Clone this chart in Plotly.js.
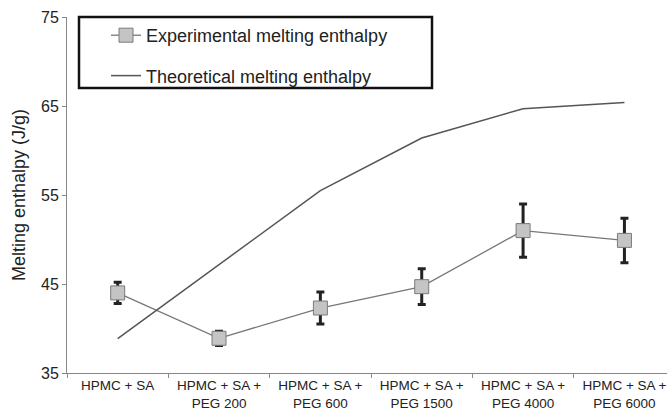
<!DOCTYPE html>
<html>
<head>
<meta charset="utf-8">
<script src="https://cdn.plot.ly/plotly-3.0.1.min.js"></script>
<style>html,body{margin:0;padding:0;background:#fff;}#chart{width:667px;height:412px;}</style>
</head>
<body>
<div id="chart"></div>
<script>
const categories = ["HPMC + SA", "HPMC + SA +<br>PEG 200", "HPMC + SA +<br>PEG 600", "HPMC + SA +<br>PEG 1500", "HPMC + SA +<br>PEG 4000", "HPMC + SA +<br>PEG 6000"];
const experimental = [44.0, 38.9, 42.3, 44.7, 51.0, 49.9];
const experimentalErr = [1.2, 0.8, 1.8, 2.0, 3.0, 2.5];
const theoretical = [38.85, 47.2, 55.5, 61.4, 64.7, 65.4];

const traces = [
  {
    x: categories, y: experimental, type: 'scatter', mode: 'lines+markers',
    name: 'Experimental melting enthalpy', legendgroup: 'a',
    line: {color: '#777777', width: 1.3},
    marker: {symbol: 'square', size: 14, color: '#c4c4c4', line: {color: '#7a7a7a', width: 1}},
    error_y: {type: 'data', array: experimentalErr, visible: true, color: '#222222', thickness: 3, width: 4}
  },
  {
    x: categories, y: theoretical, type: 'scatter', mode: 'lines',
    name: 'Theoretical melting enthalpy', legendgroup: 'b',
    line: {color: '#555555', width: 1.5}
  }
];

const layout = {
  width: 667, height: 412,
  margin: {l: 67, r: 0, t: 17, b: 39},
  paper_bgcolor: '#ffffff', plot_bgcolor: '#ffffff',
  font: {family: 'Arial, "Liberation Sans", sans-serif', color: '#222222'},
  showlegend: true,
  legend: {
    x: 0.065, y: 1.0, xanchor: 'left', yanchor: 'top',
    bgcolor: 'rgba(0,0,0,0)', borderwidth: 0,
    font: {size: 18, color: '#222222'},
    tracegroupgap: 14, traceorder: 'grouped'
  },
  shapes: [{
    type: 'rect', xref: 'paper', yref: 'paper',
    x0: 12/600, x1: 365/600, y0: 1 - 71/356, y1: 1,
    line: {color: '#111111', width: 2.5}, fillcolor: 'rgba(0,0,0,0)'
  }],
  xaxis: {
    type: 'category', range: [-0.5, 5.42],
    showline: true, linecolor: '#888888', linewidth: 1,
    ticks: 'outside', ticklen: 4, tickcolor: '#888888', tickson: 'boundaries',
    showgrid: false, zeroline: false,
    tickfont: {size: 13.5, color: '#222222'}
  },
  yaxis: {
    range: [35, 75], dtick: 10, tick0: 35,
    showline: true, linecolor: '#888888', linewidth: 1,
    ticks: 'outside', ticklen: 4, tickcolor: '#888888',
    showgrid: false, zeroline: false,
    tickfont: {size: 16, color: '#222222'},
    title: {text: 'Melting enthalpy (J/g)', font: {size: 18, color: '#222222'}, standoff: 10}
  }
};

Plotly.newPlot('chart', traces, layout, {displayModeBar: false, staticPlot: true});
</script>
</body>
</html>
